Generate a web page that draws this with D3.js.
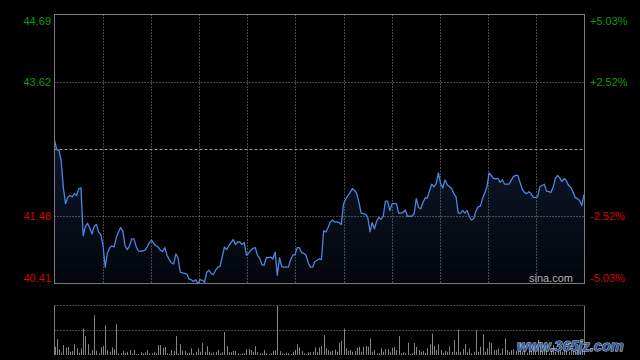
<!DOCTYPE html>
<html><head><meta charset="utf-8">
<script src="https://cdn.jsdelivr.net/npm/d3@7"></script>
<style>html,body{margin:0;padding:0;background:#000;}svg{display:block;}</style>
</head><body>
<svg id="c" width="640" height="360"></svg>
<script>
const prevClose = 42.55;
const priceTicks = [44.69, 43.62, 41.48, 40.41];
const priceLabels = ["44.69", "43.62", "41.48", "40.41"];
const pctLabels = ["+5.03%", "+2.52%", "-2.52%", "-5.03%"];
const gridColumns = 11;
const prices = [
42.69,42.54,42.53,42.37,41.94,41.68,41.78,41.81,41.79,41.84,41.81,41.92,41.93,41.17,41.32,41.37,41.29,41.20,41.32,41.35,
41.23,41.19,41.01,40.67,40.90,40.98,41.01,40.99,41.14,41.23,41.30,41.24,41.01,40.95,41.01,41.12,41.12,41.00,40.93,40.92,
40.93,40.94,40.99,41.06,41.10,41.05,41.01,40.99,40.94,40.92,40.98,40.86,40.79,40.74,40.72,40.88,40.82,40.59,40.58,40.57,
40.56,40.48,40.47,40.44,40.47,40.41,40.47,40.46,40.43,40.59,40.62,40.57,40.55,40.62,40.67,40.68,40.83,40.99,40.95,41.01,
41.06,41.11,41.03,41.07,41.07,41.03,41.06,40.86,40.89,40.94,40.97,40.98,40.86,40.81,40.71,40.70,40.82,40.82,40.83,40.80,
40.91,40.54,40.82,40.68,40.67,40.67,40.67,40.78,40.86,40.87,40.98,40.98,40.90,40.89,40.86,40.74,40.67,40.67,40.76,40.78,
40.80,40.79,41.25,41.23,41.30,41.39,41.42,41.39,41.39,41.38,41.35,41.68,41.75,41.81,41.86,41.92,41.89,41.84,41.70,41.53,
41.52,41.51,41.46,41.23,41.38,41.28,41.40,41.46,41.43,41.48,41.72,41.72,41.57,41.68,41.68,41.68,41.53,41.53,41.54,41.58,
41.48,41.48,41.48,41.52,41.76,41.62,41.60,41.70,41.77,41.77,41.89,41.99,41.95,42.00,42.17,42.00,41.93,42.06,41.98,41.95,
41.92,41.84,41.79,41.53,41.53,41.57,41.53,41.57,41.48,41.42,41.44,41.56,41.63,41.64,41.76,41.85,41.95,42.17,42.13,42.08,
42.08,42.08,42.02,42.06,41.99,41.99,41.99,42.05,42.11,42.13,42.13,42.02,41.91,41.86,41.84,41.87,41.84,41.78,41.78,41.79,
41.95,41.97,41.99,41.88,41.87,41.86,41.94,42.08,42.13,42.09,42.03,42.08,42.05,41.97,41.94,41.87,41.78,41.76,41.73,41.65,
41.83];
const volumes = [
8.3,16,5.7,2.3,10,7.3,8,3.3,4,11,6.7,2.3,6.7,26.7,19,11,1.7,5,40,4.3,
1.7,7.7,9,30,5,3.3,7.7,5.7,31,1.7,1.7,4,2.3,3.3,5,1.7,5,1,1,2.7,
1.7,2.7,5,1.7,1.7,2.7,1.7,10,10,7.3,8,1.7,1,5,4,19,1.7,11,4,4,
1.7,2.3,6.7,1.7,3.3,6.7,3.3,12,3.3,9,3.3,1.7,2.7,3.3,5,1.7,2.7,23.3,9,2.7,
2.7,4,4,1.7,1,1.7,1.7,6,6,5,3.3,9,2.7,1.7,1.7,5,1.7,1,1.7,4,
5,50,4,1.7,1,2.3,1.7,1,3.3,5,11,7.7,4,1.7,1,2.7,2.7,3.3,7.7,2.7,
7.7,9,20,6.7,5,3.3,4.3,5.7,3.3,12.3,14.3,26.7,6.7,4,5,3.3,4,7.3,8.3,3.3,
8.3,9,8.3,16.7,3.3,5,1.7,1.7,6.7,3.3,6,6,2.7,7.3,8.3,5,19,1.7,2.7,1.7,
12.3,1,1.7,12.3,8.3,5,3.3,4,2.3,6.7,11,21.7,9,5,10.7,5,2.3,4,3.3,9,
3.3,15,3.3,25.7,3.3,6,11,2.7,6.7,1.7,3.3,25,3.3,8.3,21,3.3,6.7,13.3,12.3,5,
5,6.7,1.7,6.7,16.7,5,3.3,5,5.7,4,3.3,13,3.3,5,2.3,6.7,4,8,3.3,15,
5,3.3,6.7,4,2.3,5,10,3.3,6,4,3.3,7,5,3.3,4,6,3.3,5,8,4,
12];

const svg = d3.select("#c");
svg.append("rect").attr("width", 640).attr("height", 360).attr("fill", "#000");

const L = 54.5, R = 584.5, T = 14.5, B = 283.5;
const VT = 305.5, VB = 355;

const x = d3.scaleLinear().domain([0, prices.length - 1]).range([L, R - 0.5]);
const y = d3.scaleLinear().domain([40.41, 44.69]).range([B, T]);
const yv = d3.scaleLinear().domain([0, d3.max(volumes)]).range([VB, VT]);
const col = d3.scaleLinear().domain([0, gridColumns]).range([L, R]);

const defs = svg.append("defs");
const g = defs.append("linearGradient").attr("id", "fillg")
  .attr("gradientUnits", "userSpaceOnUse").attr("x1", 0).attr("x2", 0).attr("y1", T).attr("y2", B);
g.append("stop").attr("offset", "0").attr("stop-color", "#1c2d4c");
g.append("stop").attr("offset", "0.55").attr("stop-color", "#0c1526");
g.append("stop").attr("offset", "1").attr("stop-color", "#03060b");

// area
const area = d3.area().x((d, i) => x(i)).y0(B).y1(d => y(d));
svg.append("path").datum(prices).attr("d", area).attr("fill", "url(#fillg)");

// grid
const grid = svg.append("g").attr("stroke", "#8a8a8a").attr("stroke-width", 1).attr("stroke-dasharray", "1,2");
d3.range(1, gridColumns).forEach(k => {
  const gx = Math.round(col(k)) + 0.5;
  grid.append("line").attr("x1", gx).attr("x2", gx).attr("y1", T).attr("y2", B);
});
[43.62, 41.48].forEach(v => {
  const gy = Math.round(y(v)) + 0.5;
  grid.append("line").attr("x1", L).attr("x2", R).attr("y1", gy).attr("y2", gy);
});
const my = Math.round(y(prevClose)) + 0.5;
svg.append("line").attr("x1", L).attr("x2", R).attr("y1", my).attr("y2", my)
  .attr("stroke", "#9a9a9a").attr("stroke-dasharray", "3,2");

// line
const line = d3.line().x((d, i) => x(i)).y(d => y(d));
svg.append("path").datum(prices).attr("d", line).attr("fill", "none")
  .attr("stroke", "#4d85e2").attr("stroke-width", 1.3).attr("stroke-linejoin", "round");

// frame
svg.append("rect").attr("x", L).attr("y", T).attr("width", R - L).attr("height", B - T)
  .attr("fill", "none").attr("stroke", "#7a7a7a");

// labels
const font = "'Liberation Sans', Arial, sans-serif";
priceTicks.forEach((v, i) => {
  let ty = y(v) + 4;
  if (i === 0) ty = Math.max(ty, T + 10);
  if (i === priceTicks.length - 1) ty = Math.min(ty, B - 1.5);
  const c = v > prevClose ? "#109a10" : "#d80000";
  svg.append("text").attr("x", 51).attr("y", ty).attr("text-anchor", "end")
    .attr("font-family", font).attr("font-size", 11).attr("fill", c).text(priceLabels[i]);
  svg.append("text").attr("x", 590).attr("y", ty).attr("text-anchor", "start")
    .attr("font-family", font).attr("font-size", 11).attr("fill", c).text(pctLabels[i]);
});

svg.append("text").attr("x", 573).attr("y", B - 1.5).attr("text-anchor", "end")
  .attr("font-family", font).attr("font-size", 11).attr("fill", "#b0b0b0").text("sina.com");

// volume panel
const vg = svg.append("g").attr("stroke", "#8a8a8a").attr("stroke-dasharray", "1,2");
[VT, Math.round((VT + VB) / 2) + 0.5].forEach(vy => {
  vg.append("line").attr("x1", L).attr("x2", R).attr("y1", vy).attr("y2", vy);
});
svg.append("line").attr("x1", L).attr("x2", L).attr("y1", VT).attr("y2", VB).attr("stroke", "#7a7a7a");
svg.append("line").attr("x1", R).attr("x2", R).attr("y1", VT).attr("y2", VB).attr("stroke", "#7a7a7a");
svg.append("g").selectAll("line").data(volumes).join("line")
  .attr("x1", (d, i) => Math.round(x(i)) + 0.5).attr("x2", (d, i) => Math.round(x(i)) + 0.5)
  .attr("y1", VB).attr("y2", d => yv(d))
  .attr("stroke", "#858585").attr("stroke-width", 1);

// watermark
svg.append("text").attr("x", 517).attr("y", 351).attr("font-family", "'Liberation Sans', Arial, sans-serif")
  .attr("font-size", 14.5).attr("font-weight", "bold").attr("font-style", "italic")
  .attr("fill", "#2d5da8").attr("stroke", "#d8d8d8").attr("stroke-width", 0.9)
  .attr("paint-order", "stroke").text("www.365jz.com");
</script>
</body></html>
